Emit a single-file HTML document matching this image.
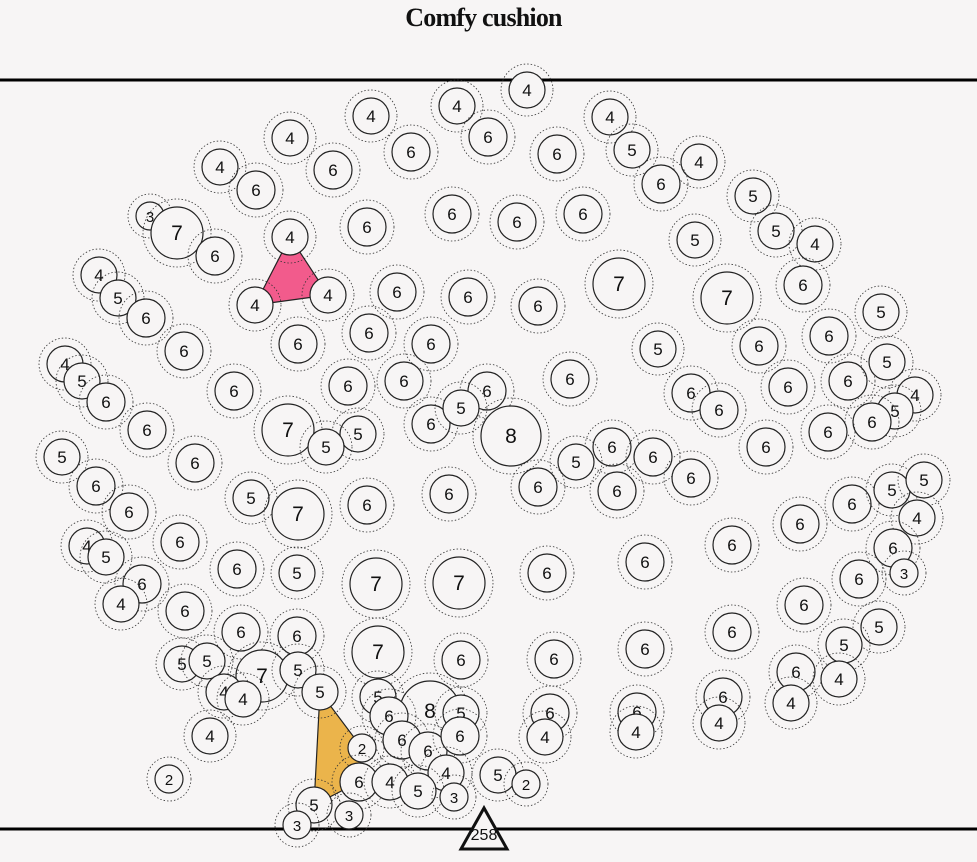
<!DOCTYPE html>
<html><head><meta charset="utf-8"><style>
html,body{margin:0;padding:0;background:#f7f5f5;}
#wrap{position:relative;width:977px;height:862px;overflow:hidden;}
#title{position:absolute;top:3px;left:0;width:967px;text-align:center;font-family:"Liberation Serif",serif;font-weight:bold;font-size:26px;letter-spacing:-0.8px;color:#111;}
svg text{font-family:"Liberation Sans",sans-serif;}
</style></head><body>
<div id="wrap">
<div id="title">Comfy cushion</div>
<svg id="chart" width="977" height="862" style="position:absolute;left:0;top:0"></svg>
</div>
<script>
const xs=[527,457,371,610,488,290,411,557,632,699,220,333,256,661,753,150,177,452,517,583,367,215,290,695,776,815,619,727,99,118,146,255,328,397,468,538,803,881,184,298,369,431,658,759,829,65,82,106,234,348,404,487,570,691,719,788,848,887,915,895,872,147,288,358,326,431,461,511,612,653,576,617,538,691,766,828,62,96,195,129,251,298,367,449,852,892,924,917,800,732,87,106,180,237,297,376,459,547,645,893,904,859,142,121,185,804,241,297,378,461,554,645,732,879,844,182,207,262,298,224,243,320,378,430,389,461,550,637,723,796,839,791,719,636,545,210,402,428,460,362,169,359,390,446,418,454,498,526,314,349,297];
const ys=[90,106,116,117,137,138,152,154,150,162,167,170,190,184,196,216,233,214,222,214,227,256,237,240,231,244,284,298,275,298,318,305,295,292,297,306,285,312,351,344,333,344,349,346,336,364,381,402,391,386,381,391,379,393,410,387,381,362,395,411,422,430,430,434,447,424,408,436,447,457,462,491,487,478,447,432,457,486,463,512,498,514,505,494,504,490,480,518,524,545,546,557,542,569,573,584,583,573,562,548,573,579,584,604,611,605,632,636,652,660,659,649,632,627,645,664,661,676,670,692,699,692,697,711,716,713,713,712,697,672,679,703,723,732,737,736,740,751,736,748,779,782,782,773,791,797,775,784,805,815,825];
const labels=[4,4,4,4,6,4,6,6,5,4,4,6,6,6,5,3,7,6,6,6,6,6,4,5,5,4,7,7,4,5,6,4,4,6,6,6,6,5,6,6,6,6,5,6,6,4,5,6,6,6,6,6,6,6,6,6,6,5,4,5,6,6,7,5,5,6,5,8,6,6,5,6,6,6,6,6,5,6,6,6,5,7,6,6,6,5,5,4,6,6,4,5,6,6,5,7,7,6,6,6,3,6,6,4,6,6,6,6,7,6,6,6,6,5,5,5,5,7,5,4,4,5,5,8,6,5,6,6,6,6,4,4,4,4,4,4,6,6,6,2,2,6,4,4,5,3,5,2,5,3,3];
const pinkGroup=[22,31,32];
const orangeGroup=[121,139,141,148];
const totalLabel="258";
const NS="http://www.w3.org/2000/svg";
const svg=document.getElementById('chart');
const rad={2:14,3:14,4:18,5:18,6:19,7:26,8:30};
function el(t,a){const e=document.createElementNS(NS,t);for(const k in a)e.setAttribute(k,a[k]);return e;}
const base=el('line',{x1:0,x2:977,y1:80,y2:80,stroke:'#000','stroke-width':3});


svg.appendChild(base);
const base2=el('line',{x1:0,x2:977,y1:829,y2:829,stroke:'#000','stroke-width':3});


svg.appendChild(base2);
function poly(g,fill,name){const p=el('polygon',{points:g.map(i=>xs[i]+','+ys[i]).join(' '),fill:fill,stroke:'#222','stroke-width':1.2});


svg.appendChild(p);}
poly(pinkGroup,'#f25b8c','pink-group');
poly(orangeGroup,'#ebb44b','orange-group');
for(let i=0;i<xs.length;i++){
  const r=rad[labels[i]]||18;
  const g=el('g',{});
  
  
  g.appendChild(el('circle',{cx:xs[i],cy:ys[i],r:r+8,fill:'none',stroke:'#333','stroke-width':0.8,'stroke-dasharray':'1.5 2'}));
  g.appendChild(el('circle',{cx:xs[i],cy:ys[i],r:r,fill:'#f7f5f5',stroke:'#222','stroke-width':1.2}));
  const t=el('text',{x:xs[i],y:ys[i]+(r>20?7:6),'text-anchor':'middle','font-size':r>20?21:(r<15?15:17),fill:'#111'});
  t.textContent=labels[i];g.appendChild(t);
  svg.appendChild(g);
}
const tri=el('polygon',{points:'484,808 461,849 507,849',fill:'#f7f5f5',stroke:'#111','stroke-width':3});


svg.appendChild(tri);
const tt=el('text',{x:484,y:840,'text-anchor':'middle','font-size':16,fill:'#111'});
tt.textContent=totalLabel;


svg.appendChild(tt);
</script>
</body></html>
